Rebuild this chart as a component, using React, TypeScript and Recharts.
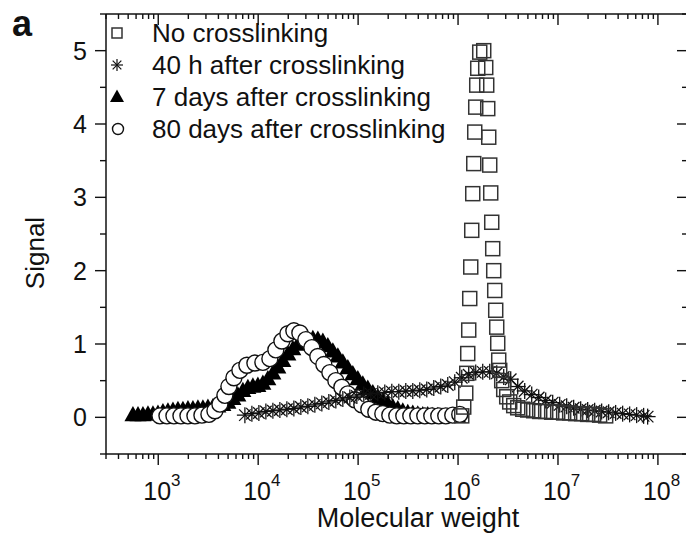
import React from "react";
import { ScatterChart, Scatter, XAxis, YAxis } from "recharts";

const FONT = '"Liberation Sans", Arial, Helvetica, sans-serif';
const INK = "#111";

// No crosslinking (open squares)
const noCrossMW = [
  1.089e6, 1.14e6, 1.194e6, 1.222e6, 1.25e6, 1.279e6, 1.309e6, 1.34e6, 1.371e6, 1.403e6,
  1.436e6, 1.469e6, 1.503e6, 1.538e6, 1.574e6, 1.648e6, 1.807e6, 1.892e6, 1.936e6, 1.982e6,
  2.028e6, 2.075e6, 2.123e6, 2.173e6, 2.223e6, 2.275e6, 2.328e6, 2.382e6, 2.438e6, 2.495e6,
  2.553e6, 2.612e6, 2.735e6, 2.864e6, 3.069e6, 3.289e6, 3.606e6, 3.954e6, 4.436e6, 4.977e6,
  5.715e6, 6.561e6, 7.534e6, 8.65e6, 9.931e6, 1.14e7, 1.309e7, 1.503e7, 1.726e7, 1.982e7,
  2.275e7, 2.612e7, 3.0e7,
];
const noCrossSignal = [
  0.02, 0.14, 0.33, 0.6, 0.87, 1.19, 1.62, 2.05, 2.55, 3.05,
  3.46, 3.89, 4.23, 4.53, 4.76, 4.98, 5.0, 4.77, 4.53, 4.21,
  3.82, 3.44, 3.06, 2.66, 2.3, 2.0, 1.73, 1.46, 1.23, 1.01,
  0.78, 0.64, 0.5, 0.38, 0.28, 0.21, 0.16, 0.13, 0.11, 0.1,
  0.09, 0.08, 0.08, 0.07, 0.07, 0.06, 0.06, 0.05, 0.05, 0.04,
  0.04, 0.03, 0.02,
];

// 40 h after crosslinking (asterisks)
const h40MW = [
  7362, 8650, 10160, 11940, 14030, 16480, 19360, 22750, 26730, 31410,
  36900, 43350, 50930, 59840, 70310, 82600, 97050, 114000, 134000, 157400,
  184900, 217300, 255300, 299900, 352400, 414000, 486400, 571500, 671400, 788900,
  926800, 1.089e6, 1.279e6, 1.503e6, 1.766e6, 2.075e6, 2.438e6, 2.864e6, 3.365e6, 3.954e6,
  4.645e6, 5.458e6, 6.412e6, 7.534e6, 8.851e6, 1.04e7, 1.222e7, 1.435e7, 1.687e7, 1.982e7,
  2.328e7, 2.735e7, 3.214e7, 3.776e7, 4.436e7, 5.212e7, 6.124e7, 7.194e7, 7.889e7,
];
const h40Signal = [
  0.03, 0.05, 0.06, 0.08, 0.09, 0.1, 0.11, 0.12, 0.14, 0.15,
  0.17, 0.19, 0.21, 0.23, 0.25, 0.27, 0.29, 0.31, 0.32, 0.33,
  0.34, 0.35, 0.35, 0.36, 0.36, 0.37, 0.38, 0.4, 0.42, 0.44,
  0.48, 0.54, 0.58, 0.61, 0.62, 0.62, 0.6, 0.55, 0.52, 0.42,
  0.36, 0.31, 0.27, 0.23, 0.2, 0.17, 0.15, 0.13, 0.11, 0.1,
  0.09, 0.08, 0.07, 0.06, 0.05, 0.04, 0.03, 0.02, 0.01,
];

// 7 days after crosslinking (filled triangles)
const d7MW = [
  558, 627, 703, 789, 885, 993, 1114, 1250, 1403, 1574,
  1766, 1982, 2223, 2495, 2799, 3141, 3524, 3954, 4436, 4977,
  5585, 6266, 7031, 7889, 8851, 9931, 11140, 12500, 14030, 15740,
  17660, 19820, 22230, 24950, 27990, 31410, 35240, 39540, 44360, 49770,
  55850, 62660, 70310, 78890, 88510, 99310, 111400, 125000, 140300, 157400,
  176600, 198200, 222300, 249500, 279900, 314100, 352400, 395400, 443600, 497700,
  558500, 626600, 703100, 788900, 885100, 993100,
];
const d7Signal = [
  0.03, 0.03, 0.03, 0.04, 0.04, 0.05, 0.07, 0.08, 0.09, 0.1,
  0.1, 0.11, 0.11, 0.12, 0.12, 0.13, 0.14, 0.15, 0.17, 0.2,
  0.25, 0.3, 0.36, 0.4, 0.42, 0.43, 0.46, 0.52, 0.6, 0.68,
  0.77, 0.86, 0.93, 0.99, 1.03, 1.06, 1.07, 1.06, 1.03, 0.97,
  0.9, 0.83, 0.75, 0.67, 0.59, 0.52, 0.45, 0.39, 0.33, 0.27,
  0.22, 0.18, 0.14, 0.11, 0.08, 0.06, 0.05, 0.04, 0.03, 0.03,
  0.02, 0.02, 0.01, 0.01, 0.01, 0.01,
];

// 80 days after crosslinking (open circles)
const d80MW = [
  1040, 1222, 1435, 1687, 1982, 2328, 2735, 3214, 3690, 4140,
  4645, 5093, 5715, 6561, 7709, 9268, 11140, 13090, 15030, 17260,
  19820, 22750, 26120, 29990, 34430, 39540, 45390, 52120, 59840, 68710,
  78890, 92680, 108900, 127900, 150300, 176600, 207500, 243800, 286400, 336500,
  395400, 464500, 545800, 641200, 753400, 885100, 1.04e6,
];
const d80Signal = [
  0.02, 0.02, 0.02, 0.02, 0.02, 0.02, 0.03, 0.04, 0.09, 0.18,
  0.3, 0.42, 0.54, 0.64, 0.71, 0.74, 0.75, 0.8, 0.92, 1.04,
  1.14, 1.18, 1.15, 1.06, 0.95, 0.83, 0.72, 0.61, 0.5, 0.41,
  0.32, 0.24, 0.17, 0.11, 0.07, 0.05, 0.03, 0.02, 0.02, 0.02,
  0.02, 0.02, 0.02, 0.02, 0.02, 0.03, 0.04,
];

const seriesNames = [
  "No crosslinking",
  "40 h after crosslinking",
  "7 days after crosslinking",
  "80 days after crosslinking",
];

const xDomain = [300, 2e8];
const xMajorTicks = [1e3, 1e4, 1e5, 1e6, 1e7, 1e8];
const yDomain = [-0.5, 5.5];
const yMajorTicks = [0, 1, 2, 3, 4, 5];

// minor ticks: 2..9 x 10^n inside the domain, 0.5 steps on y
const xTicks: number[] = [];
for (let e = 2; e <= 8; e++) {
  for (let m = 1; m <= 9; m++) {
    const v = m * Math.pow(10, e);
    if (v >= xDomain[0] && v <= xDomain[1]) xTicks.push(v);
  }
}
const yTicks: number[] = [];
for (let v = -0.5; v <= 5.5; v += 0.5) yTicks.push(v);

const toPoints = (xs: number[], ys: number[]) =>
  xs.map((mw, i) => ({ mw, signal: ys[i] }));

const isMajorX = (v: number) => xMajorTicks.includes(v);
const isMajorY = (v: number) => yMajorTicks.includes(v);

function BottomTick({ x, y, payload }: any) {
  const v = payload.value;
  const major = isMajorX(v);
  return (
    <g>
      <line x1={x} x2={x} y1={y} y2={y + (major ? 11 : 5)} stroke={INK} strokeWidth={1.4} />
      {major && (
        <text x={x - 15} y={y + 46} fontSize={25} fontFamily={FONT} fill={INK}>
          10
          <tspan dy={-14} fontSize={17}>
            {Math.round(Math.log10(v))}
          </tspan>
        </text>
      )}
    </g>
  );
}

function TopTick({ x, y, payload }: any) {
  const major = isMajorX(payload.value);
  return <line x1={x} x2={x} y1={y} y2={y + (major ? 11 : 5)} stroke={INK} strokeWidth={1.4} />;
}

function LeftTick({ x, y, payload }: any) {
  const v = payload.value;
  const major = isMajorY(v);
  return (
    <g>
      <line x1={x - (major ? 11 : 6)} x2={x} y1={y} y2={y} stroke={INK} strokeWidth={1.4} />
      {major && (
        <text x={x - 19} y={y + 9} textAnchor="end" fontSize={25} fontFamily={FONT} fill={INK}>
          {v}
        </text>
      )}
    </g>
  );
}

function RightTick({ x, y, payload }: any) {
  const major = isMajorY(payload.value);
  return <line x1={x - (major ? 11 : 6)} x2={x} y1={y} y2={y} stroke={INK} strokeWidth={1.4} />;
}

function Square({ cx, cy, s = 14 }: any) {
  return (
    <rect x={cx - s / 2} y={cy - s / 2} width={s} height={s} fill="none" stroke="#333" strokeWidth={1.5} />
  );
}

function Star({ cx, cy, r = 8, w = 1.3 }: any) {
  const d = r * 0.72;
  return (
    <g stroke={INK} strokeWidth={w}>
      <line x1={cx} x2={cx} y1={cy - r} y2={cy + r} />
      <line x1={cx - r} x2={cx + r} y1={cy} y2={cy} />
      <line x1={cx - d} x2={cx + d} y1={cy - d} y2={cy + d} />
      <line x1={cx - d} x2={cx + d} y1={cy + d} y2={cy - d} />
    </g>
  );
}

function Triangle({ cx, cy, s = 17 }: any) {
  const h = s * 0.9;
  return (
    <polygon
      points={`${cx},${cy - h * 0.6} ${cx - s / 2},${cy + h * 0.4} ${cx + s / 2},${cy + h * 0.4}`}
      fill="#000"
    />
  );
}

function Ring({ cx, cy, r = 8 }: any) {
  return <circle cx={cx} cy={cy} r={r} fill="#fff" stroke={INK} strokeWidth={1.4} />;
}

const legendRows = [
  (cy: number) => <Square cx={117} cy={cy} s={10} />,
  (cy: number) => <Star cx={117} cy={cy} r={6} w={1.2} />,
  (cy: number) => <Triangle cx={117} cy={cy} s={14} />,
  (cy: number) => <Ring cx={118} cy={cy} r={5.5} />,
];

export default function App() {
  return (
    <div
      style={{
        position: "fixed",
        left: 0,
        top: 0,
        width: 686,
        height: 534,
        overflow: "hidden",
        background: "#fff",
      }}
    >
      <ScatterChart width={700} height={534} margin={{ top: 0, right: 0, bottom: 0, left: 0 }}>
        <XAxis
          xAxisId="bottom"
          dataKey="mw"
          type="number"
          scale="log"
          domain={xDomain}
          allowDataOverflow
          ticks={xTicks}
          interval={0}
          height={80}
          tickSize={0}
          tickMargin={0}
          tick={(p: any) => <BottomTick {...p} />}
          axisLine={{ stroke: INK, strokeWidth: 1.5 }}
          tickLine={false}
        />
        <XAxis
          xAxisId="top"
          orientation="top"
          dataKey="mw"
          type="number"
          scale="log"
          domain={xDomain}
          allowDataOverflow
          ticks={xTicks}
          interval={0}
          height={14}
          tickSize={0}
          tickMargin={0}
          tick={(p: any) => <TopTick {...p} />}
          axisLine={{ stroke: INK, strokeWidth: 1.5 }}
          tickLine={false}
        />
        <YAxis
          yAxisId="left"
          dataKey="signal"
          type="number"
          domain={yDomain}
          allowDataOverflow
          ticks={yTicks}
          interval={0}
          width={106}
          tickSize={0}
          tickMargin={0}
          tick={(p: any) => <LeftTick {...p} />}
          axisLine={{ stroke: INK, strokeWidth: 1.5 }}
          tickLine={false}
        />
        <YAxis
          yAxisId="right"
          orientation="right"
          dataKey="signal"
          type="number"
          domain={yDomain}
          allowDataOverflow
          ticks={yTicks}
          interval={0}
          width={12}
          tickSize={0}
          tickMargin={0}
          tick={(p: any) => <RightTick {...p} />}
          axisLine={{ stroke: INK, strokeWidth: 1.5 }}
          tickLine={false}
        />
        <Scatter
          name={seriesNames[2]}
          data={toPoints(d7MW, d7Signal)}
          xAxisId="bottom"
          yAxisId="left"
          isAnimationActive={false}
          shape={(p: any) => <Triangle cx={p.cx} cy={p.cy} />}
        />
        <Scatter
          name={seriesNames[3]}
          data={toPoints(d80MW, d80Signal)}
          xAxisId="bottom"
          yAxisId="left"
          isAnimationActive={false}
          shape={(p: any) => <Ring cx={p.cx} cy={p.cy} />}
        />
        <Scatter
          name={seriesNames[1]}
          data={toPoints(h40MW, h40Signal)}
          xAxisId="bottom"
          yAxisId="left"
          isAnimationActive={false}
          shape={(p: any) => <Star cx={p.cx} cy={p.cy} />}
        />
        <Scatter
          name={seriesNames[0]}
          data={toPoints(noCrossMW, noCrossSignal)}
          xAxisId="bottom"
          yAxisId="left"
          isAnimationActive={false}
          shape={(p: any) => <Square cx={p.cx} cy={p.cy} />}
        />
      </ScatterChart>
      <svg
        width={686}
        height={534}
        style={{ position: "absolute", left: 0, top: 0, pointerEvents: "none" }}
        fontFamily={FONT}
      >
        <text x={12} y={36} fontSize={36} fontWeight="bold" fill={INK}>
          a
        </text>
        <text
          transform="translate(44,253) rotate(-90)"
          textAnchor="middle"
          fontSize={26}
          fill={INK}
        >
          Signal
        </text>
        <text x={418} y={527} textAnchor="middle" fontSize={27} fill={INK}>
          Molecular weight
        </text>
        {seriesNames.map((name, i) => {
          const base = 42 + i * 32;
          return (
            <g key={name}>
              {legendRows[i](base - 9)}
              <text x={152} y={base} fontSize={26} fill={INK}>
                {name}
              </text>
            </g>
          );
        })}
      </svg>
    </div>
  );
}
